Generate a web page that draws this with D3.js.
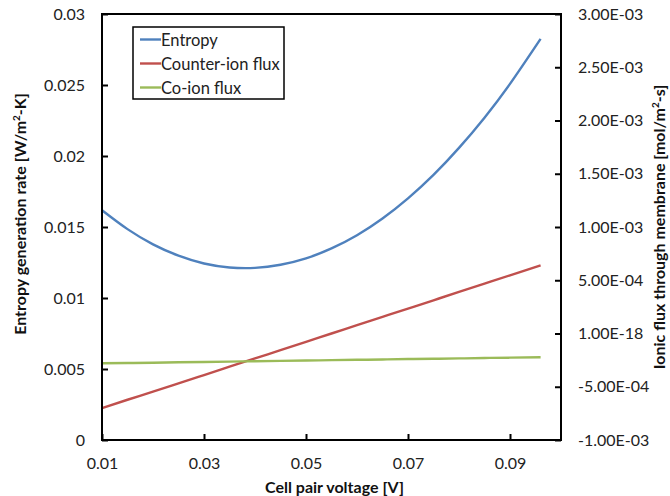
<!DOCTYPE html>
<html>
<head>
<meta charset="utf-8">
<script src="https://cdn.jsdelivr.net/npm/d3@7"></script>
<style>
  html, body { margin: 0; padding: 0; background: #fff; }
  svg { display: block; font-family: Lato, "Open Sans", sans-serif; }
</style>
</head>
<body>
<svg id="chart" width="670" height="496"></svg>
<script>
// Cell pair voltage [V]
const voltage = [0.010, 0.015, 0.020, 0.025, 0.030, 0.035, 0.040, 0.045, 0.050,
                 0.055, 0.060, 0.065, 0.070, 0.075, 0.080, 0.085, 0.090, 0.096];
// Entropy generation rate [W/m2-K] (left axis)
const entropy = [0.01618, 0.01485, 0.01378, 0.01298, 0.01243, 0.01215, 0.01212, 0.01234, 0.01279,
                 0.01349, 0.01442, 0.01560, 0.01702, 0.01867, 0.02057, 0.02270, 0.02508, 0.02825];
// Ionic flux through membrane [mol/m2-s] (right axis)
const counterIon = [-7.00e-4, -6.22e-4, -5.46e-4, -4.68e-4, -3.90e-4, -3.12e-4, -2.34e-4, -1.56e-4, -7.8e-5,
                    0, 7.8e-5, 1.56e-4, 2.34e-4, 3.12e-4, 3.90e-4, 4.68e-4, 5.46e-4, 6.40e-4];
const coIon = [-2.80e-4, -2.77e-4, -2.74e-4, -2.70e-4, -2.67e-4, -2.64e-4, -2.60e-4, -2.57e-4, -2.54e-4,
               -2.50e-4, -2.47e-4, -2.44e-4, -2.40e-4, -2.37e-4, -2.34e-4, -2.30e-4, -2.27e-4, -2.23e-4];

const xTicks = [0.01, 0.03, 0.05, 0.07, 0.09];
const xTickLabels = ["0.01", "0.03", "0.05", "0.07", "0.09"];
const yLeftTicks = [0, 0.005, 0.01, 0.015, 0.02, 0.025, 0.03];
const yLeftTickLabels = ["0", "0.005", "0.01", "0.015", "0.02", "0.025", "0.03"];
const yRightTicks = [-1e-3, -5e-4, 0, 5e-4, 1e-3, 1.5e-3, 2e-3, 2.5e-3, 3e-3];
const yRightTickLabels = ["-1.00E-03", "-5.00E-04", "1.00E-18", "5.00E-04", "1.00E-03",
                          "1.50E-03", "2.00E-03", "2.50E-03", "3.00E-03"];

const seriesNames = ["Entropy", "Counter-ion flux", "Co-ion flux"];
const seriesColors = ["#4F81BD", "#C0504D", "#9BBB59"];

const svg = d3.select("#chart");
const m = { left: 102, right: 561, top: 14, bottom: 440 };

const x = d3.scaleLinear().domain([0.01, 0.1]).range([m.left, m.right]);
const yL = d3.scaleLinear().domain([0, 0.03]).range([m.bottom, m.top]);
const yR = d3.scaleLinear().domain([-1e-3, 3e-3]).range([m.bottom, m.top]);

// smoothed data lines
const lineL = d3.line().x((d, i) => x(voltage[i])).y(d => yL(d)).curve(d3.curveNatural);
const lineR = d3.line().x((d, i) => x(voltage[i])).y(d => yR(d)).curve(d3.curveNatural);

const g = svg.append("g");
g.append("path").datum(entropy).attr("d", lineL)
  .attr("fill", "none").attr("stroke", seriesColors[0]).attr("stroke-width", 2.4);
g.append("path").datum(counterIon).attr("d", lineR)
  .attr("fill", "none").attr("stroke", seriesColors[1]).attr("stroke-width", 2.4);
g.append("path").datum(coIon).attr("d", lineR)
  .attr("fill", "none").attr("stroke", seriesColors[2]).attr("stroke-width", 2.4);

// plot frame
svg.append("rect")
  .attr("x", m.left).attr("y", m.top)
  .attr("width", m.right - m.left).attr("height", m.bottom - m.top)
  .attr("fill", "none").attr("stroke", "#000").attr("stroke-width", 2);

// axes with inward ticks
function styleAxis(sel) {
  sel.select(".domain").remove();
  sel.selectAll(".tick line").attr("stroke", "#000").attr("stroke-width", 2);
  sel.selectAll(".tick text").attr("fill", "#222").style("font-size", "16px")
    .style("font-family", "Lato, 'Open Sans', sans-serif");
}

const xAxis = svg.append("g").attr("transform", `translate(0,${m.bottom})`)
  .call(d3.axisBottom(x).tickValues(xTicks).tickFormat((d, i) => xTickLabels[i])
    .tickSizeInner(-6).tickSizeOuter(0).tickPadding(18));
styleAxis(xAxis);

const leftAxis = svg.append("g").attr("transform", `translate(${m.left},0)`)
  .call(d3.axisLeft(yL).tickValues(yLeftTicks).tickFormat((d, i) => yLeftTickLabels[i])
    .tickSizeInner(-6).tickSizeOuter(0).tickPadding(17));
styleAxis(leftAxis);

const rightAxis = svg.append("g").attr("transform", `translate(${m.right},0)`)
  .call(d3.axisRight(yR).tickValues(yRightTicks).tickFormat((d, i) => yRightTickLabels[i])
    .tickSizeInner(-6).tickSizeOuter(0).tickPadding(17));
styleAxis(rightAxis);

// axis titles
svg.append("text")
  .attr("x", (m.left + m.right) / 2 + 3).attr("y", 493)
  .attr("text-anchor", "middle").attr("font-weight", "bold").attr("font-size", 16)
  .attr("fill", "#111")
  .text("Cell pair voltage [V]");

const lt = svg.append("text")
  .attr("transform", `translate(26,214) rotate(-90)`)
  .attr("text-anchor", "middle").attr("font-weight", "bold").attr("font-size", 16)
  .attr("fill", "#111");
lt.append("tspan").text("Entropy generation rate [W/m");
lt.append("tspan").attr("dy", -6).attr("font-size", 10).text("2");
lt.append("tspan").attr("dy", 6).text("-K]");

const rt = svg.append("text")
  .attr("transform", `translate(665,${(m.top + m.bottom) / 2}) rotate(-90)`)
  .attr("text-anchor", "middle").attr("font-weight", "bold").attr("font-size", 16)
  .attr("fill", "#111");
rt.append("tspan").text("Ionic flux through membrane [mol/m");
rt.append("tspan").attr("dy", -6).attr("font-size", 10).text("2");
rt.append("tspan").attr("dy", 6).text("-s]");

// legend
const lg = svg.append("g");
lg.append("rect").attr("x", 133).attr("y", 27).attr("width", 151).attr("height", 72)
  .attr("fill", "#fff").attr("stroke", "#000").attr("stroke-width", 1.5);
seriesNames.forEach((name, i) => {
  const yy = 39.5 + i * 24;
  lg.append("line").attr("x1", 140).attr("x2", 161).attr("y1", yy).attr("y2", yy)
    .attr("stroke", seriesColors[i]).attr("stroke-width", 2.4);
  lg.append("text").attr("x", 161).attr("y", yy + 6)
    .attr("font-size", 16.5).attr("fill", "#222").text(name);
});
</script>
</body>
</html>
